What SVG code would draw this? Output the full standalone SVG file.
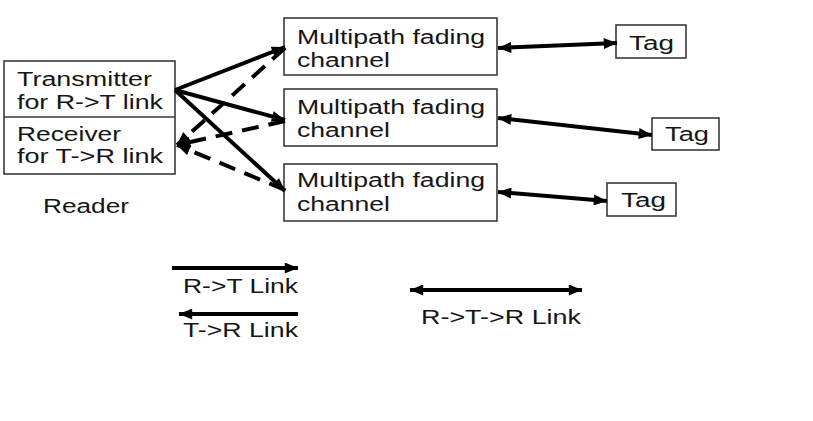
<svg xmlns="http://www.w3.org/2000/svg" width="813" height="421" viewBox="0 0 813 421">
<style>
text{font-family:"Liberation Sans",Arial,sans-serif;font-size:19.5px;fill:#151515}
.box{fill:#fff;stroke:#3a3a3a;stroke-width:1.6}
.ln{stroke:#000;stroke-width:4;fill:none}
.da{stroke-dasharray:17 10}
</style>
<defs>
<marker id="ah" viewBox="0 0 12 10" refX="12" refY="5" markerWidth="14" markerHeight="11" markerUnits="userSpaceOnUse" orient="auto-start-reverse">
<path d="M0,0 L12,5 L0,10 z" fill="#000"/>
</marker>
</defs>
<rect width="813" height="421" fill="#fff"/>
<g id="reader">
<rect class="box" x="4" y="61" width="171" height="113"/>
<line x1="4" y1="117" x2="175" y2="117" stroke="#3a3a3a" stroke-width="1.6"/>
<text x="17" y="86" textLength="135" lengthAdjust="spacingAndGlyphs">Transmitter</text>
<text x="17" y="109" textLength="146" lengthAdjust="spacingAndGlyphs">for R-&gt;T link</text>
<text x="17" y="141" textLength="104" lengthAdjust="spacingAndGlyphs">Receiver</text>
<text x="17" y="163" textLength="146" lengthAdjust="spacingAndGlyphs">for T-&gt;R link</text>
<text x="43" y="213" textLength="86" lengthAdjust="spacingAndGlyphs">Reader</text>
</g>
<g id="channel1">
<rect class="box" x="284" y="18" width="213" height="57"/>
<text x="297" y="44" textLength="188" lengthAdjust="spacingAndGlyphs">Multipath fading</text>
<text x="297" y="67" textLength="93" lengthAdjust="spacingAndGlyphs">channel</text>
</g>
<g id="channel2">
<rect class="box" x="284" y="89" width="213" height="57"/>
<text x="297" y="114" textLength="188" lengthAdjust="spacingAndGlyphs">Multipath fading</text>
<text x="297" y="137" textLength="93" lengthAdjust="spacingAndGlyphs">channel</text>
</g>
<g id="channel3">
<rect class="box" x="284" y="164" width="213" height="57"/>
<text x="297" y="187" textLength="188" lengthAdjust="spacingAndGlyphs">Multipath fading</text>
<text x="297" y="211" textLength="93" lengthAdjust="spacingAndGlyphs">channel</text>
</g>
<g id="tag1">
<rect class="box" x="616" y="25" width="70" height="33"/>
<text x="629" y="50" textLength="45" lengthAdjust="spacingAndGlyphs">Tag</text>
</g>
<g id="tag2">
<rect class="box" x="652" y="118" width="67" height="32"/>
<text x="665" y="141" textLength="44" lengthAdjust="spacingAndGlyphs">Tag</text>
</g>
<g id="tag3">
<rect class="box" x="607" y="183" width="69" height="33"/>
<text x="621" y="207" textLength="45" lengthAdjust="spacingAndGlyphs">Tag</text>
</g>
<g id="connectors">
<line class="ln" x1="175" y1="90" x2="285" y2="47" marker-end="url(#ah)"/>
<line class="ln" x1="175" y1="90" x2="285" y2="120" marker-end="url(#ah)"/>
<line class="ln" x1="175" y1="90" x2="285" y2="191" marker-end="url(#ah)"/>
<line class="ln da" x1="285" y1="48" x2="177" y2="145" marker-end="url(#ah)"/>
<line class="ln da" x1="285" y1="121" x2="177" y2="145" marker-end="url(#ah)"/>
<line class="ln da" x1="285" y1="190" x2="177" y2="145" marker-end="url(#ah)"/>
<line class="ln" x1="498" y1="48" x2="617" y2="43" marker-start="url(#ah)" marker-end="url(#ah)"/>
<line class="ln" x1="498" y1="118" x2="652" y2="135" marker-start="url(#ah)" marker-end="url(#ah)"/>
<line class="ln" x1="498" y1="192" x2="607" y2="201" marker-start="url(#ah)" marker-end="url(#ah)"/>
</g>
<g id="legend">
<line class="ln" x1="172" y1="268" x2="298" y2="268" marker-end="url(#ah)"/>
<text x="183" y="293" textLength="115" lengthAdjust="spacingAndGlyphs">R-&gt;T Link</text>
<line class="ln" x1="298" y1="314" x2="179" y2="314" marker-end="url(#ah)"/>
<text x="183" y="337" textLength="115" lengthAdjust="spacingAndGlyphs">T-&gt;R Link</text>
<line class="ln" x1="410" y1="290" x2="582" y2="290" marker-start="url(#ah)" marker-end="url(#ah)"/>
<text x="421" y="324" textLength="160" lengthAdjust="spacingAndGlyphs">R-&gt;T-&gt;R Link</text>
</g>
</svg>
